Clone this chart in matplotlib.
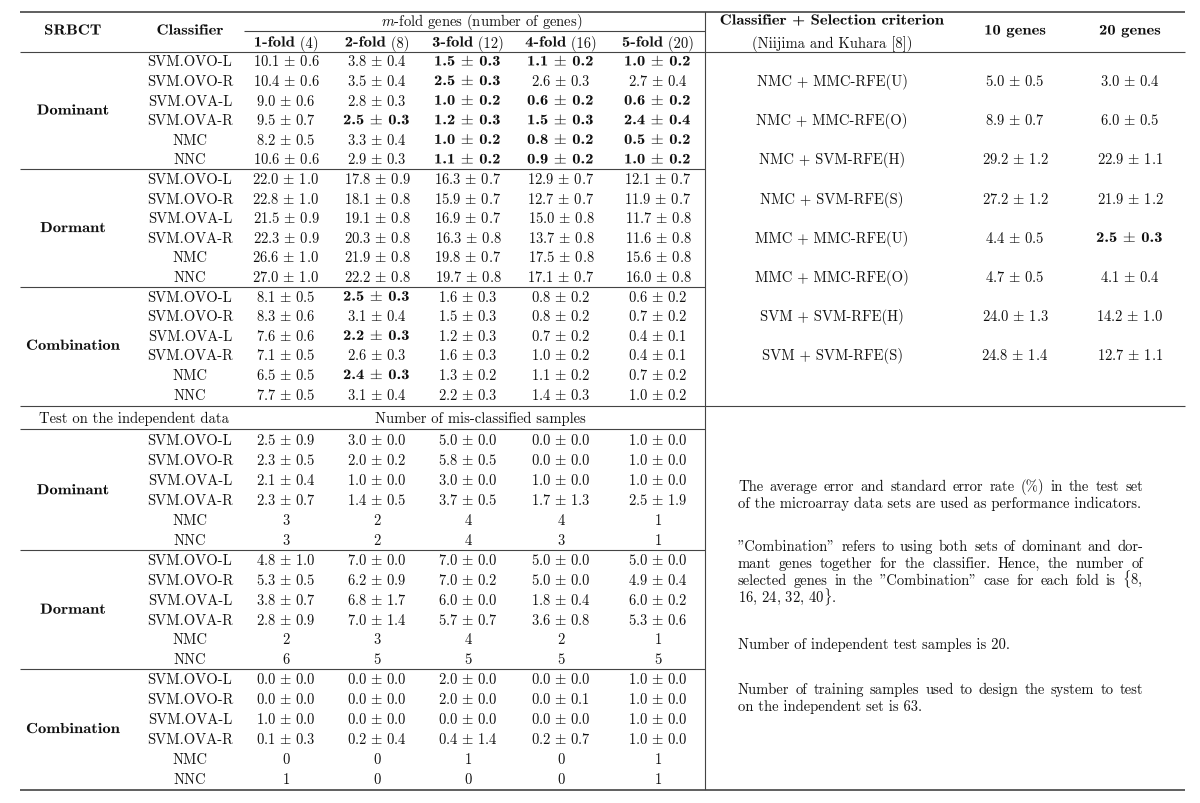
import matplotlib
matplotlib.use("Agg")
import matplotlib.pyplot as plt
from matplotlib.patheffects import AbstractPathEffect
from matplotlib.transforms import Affine2D

plt.rcParams['mathtext.fontset'] = 'cm'
plt.rcParams['font.family'] = 'cmr10'
plt.rcParams['axes.unicode_minus'] = False

# ---- data ----
groups = ["Dominant", "Dormant", "Combination"]
classifiers = ["SVM.OVO-L", "SVM.OVO-R", "SVM.OVA-L", "SVM.OVA-R", "NMC", "NNC"]
fold_labels = ["1-fold", "2-fold", "3-fold", "4-fold", "5-fold"]
fold_genes = [4, 8, 12, 16, 20]

# m-fold cross validation error (%): mean, std
cv_mean = {
    "Dominant": [[10.1, 3.8, 1.5, 1.1, 1.0], [10.4, 3.5, 2.5, 2.6, 2.7], [9.0, 2.8, 1.0, 0.6, 0.6],
                 [9.5, 2.5, 1.2, 1.5, 2.4], [8.2, 3.3, 1.0, 0.8, 0.5], [10.6, 2.9, 1.1, 0.9, 1.0]],
    "Dormant": [[22.0, 17.8, 16.3, 12.9, 12.1], [22.8, 18.1, 15.9, 12.7, 11.9], [21.5, 19.1, 16.9, 15.0, 11.7],
                [22.3, 20.3, 16.3, 13.7, 11.6], [26.6, 21.9, 19.8, 17.5, 15.6], [27.0, 22.2, 19.7, 17.1, 16.0]],
    "Combination": [[8.1, 2.5, 1.6, 0.8, 0.6], [8.3, 3.1, 1.5, 0.8, 0.7], [7.6, 2.2, 1.2, 0.7, 0.4],
                    [7.1, 2.6, 1.6, 1.0, 0.4], [6.5, 2.4, 1.3, 1.1, 0.7], [7.7, 3.1, 2.2, 1.4, 1.0]],
}
cv_std = {
    "Dominant": [[0.6, 0.4, 0.3, 0.2, 0.2], [0.6, 0.4, 0.3, 0.3, 0.4], [0.6, 0.3, 0.2, 0.2, 0.2],
                 [0.7, 0.3, 0.3, 0.3, 0.4], [0.5, 0.4, 0.2, 0.2, 0.2], [0.6, 0.3, 0.2, 0.2, 0.2]],
    "Dormant": [[1.0, 0.9, 0.7, 0.7, 0.7], [1.0, 0.8, 0.7, 0.7, 0.7], [0.9, 0.8, 0.7, 0.8, 0.8],
                [0.9, 0.8, 0.8, 0.8, 0.8], [1.0, 0.8, 0.7, 0.8, 0.8], [1.0, 0.8, 0.8, 0.7, 0.8]],
    "Combination": [[0.5, 0.3, 0.3, 0.2, 0.2], [0.6, 0.4, 0.3, 0.2, 0.2], [0.6, 0.3, 0.3, 0.2, 0.1],
                    [0.5, 0.3, 0.3, 0.2, 0.1], [0.5, 0.3, 0.2, 0.2, 0.2], [0.5, 0.4, 0.3, 0.3, 0.2]],
}
cv_bold = {
    "Dominant": [[0, 0, 1, 1, 1], [0, 0, 1, 0, 0], [0, 0, 1, 1, 1],
                 [0, 1, 1, 1, 1], [0, 0, 1, 1, 1], [0, 0, 1, 1, 1]],
    "Dormant": [[0] * 5] * 6,
    "Combination": [[0, 1, 0, 0, 0], [0] * 5, [0, 1, 0, 0, 0],
                    [0] * 5, [0, 1, 0, 0, 0], [0] * 5],
}

# number of mis-classified samples on the independent data (std None -> integer count)
test_mean = {
    "Dominant": [[2.5, 3.0, 5.0, 0.0, 1.0], [2.3, 2.0, 5.8, 0.0, 1.0], [2.1, 1.0, 3.0, 1.0, 1.0],
                 [2.3, 1.4, 3.7, 1.7, 2.5], [3, 2, 4, 4, 1], [3, 2, 4, 3, 1]],
    "Dormant": [[4.8, 7.0, 7.0, 5.0, 5.0], [5.3, 6.2, 7.0, 5.0, 4.9], [3.8, 6.8, 6.0, 1.8, 6.0],
                [2.8, 7.0, 5.7, 3.6, 5.3], [2, 3, 4, 2, 1], [6, 5, 5, 5, 5]],
    "Combination": [[0.0, 0.0, 2.0, 0.0, 1.0], [0.0, 0.0, 2.0, 0.0, 1.0], [1.0, 0.0, 0.0, 0.0, 1.0],
                    [0.1, 0.2, 0.4, 0.2, 1.0], [0, 0, 1, 0, 1], [1, 0, 0, 0, 1]],
}
test_std = {
    "Dominant": [[0.9, 0.0, 0.0, 0.0, 0.0], [0.5, 0.2, 0.5, 0.0, 0.0], [0.4, 0.0, 0.0, 0.0, 0.0],
                 [0.7, 0.5, 0.5, 1.3, 1.9], None, None],
    "Dormant": [[1.0, 0.0, 0.0, 0.0, 0.0], [0.5, 0.9, 0.2, 0.0, 0.4], [0.7, 1.7, 0.0, 0.4, 0.2],
                [0.9, 1.4, 0.7, 0.8, 0.6], None, None],
    "Combination": [[0.0, 0.0, 0.0, 0.0, 0.0], [0.0, 0.0, 0.0, 0.1, 0.0], [0.0, 0.0, 0.0, 0.0, 0.0],
                    [0.3, 0.4, 1.4, 0.7, 0.0], None, None],
}

# Niijima and Kuhara [8]
ref_methods = ["NMC + MMC-RFE(U)", "NMC + MMC-RFE(O)", "NMC + SVM-RFE(H)", "NMC + SVM-RFE(S)",
               "MMC + MMC-RFE(U)", "MMC + MMC-RFE(O)", "SVM + SVM-RFE(H)", "SVM + SVM-RFE(S)"]
ref_10_mean = [5.0, 8.9, 29.2, 27.2, 4.4, 4.7, 24.0, 24.8]
ref_10_std = [0.5, 0.7, 1.2, 1.2, 0.5, 0.5, 1.3, 1.4]
ref_20_mean = [3.0, 6.0, 22.9, 21.9, 2.5, 4.1, 14.2, 12.7]
ref_20_std = [0.4, 0.5, 1.1, 1.2, 0.3, 0.4, 1.0, 1.1]
ref_20_bold = [0, 0, 0, 0, 1, 0, 0, 0]

notes = [
    ["The average error and standard error rate (%) in the test set",
     "of the microarray data sets are used as performance indicators."],
    ['"Combination" refers to using both sets of dominant and dor-',
     "mant genes together for the classifier.  Hence, the number of",
     'selected genes in the "Combination" case for each fold is $\\{$8,',
     "16, 24, 32, 40$\\}$."],
    ["Number of independent test samples is 20."],
    ["Number of training samples used to design the system to test",
     "on the independent set is 63."],
]

# ---- layout (pixel coordinates) ----
FS = 10.5
SX = 1.14          # widen cmb10 towards LaTeX's bold-extended look
INK = "#111111"
RULE = "#444444"
X0, X1, XS = 20, 1185, 705
x_group, x_clf = 73, 190
x_cols = [286, 377, 468, 561, 658]
x_ref = [832, 1015, 1130]
row_cv, row_test = 19.6, 19.9
y_cv0, y_test0 = 62, 441

fig = plt.figure(figsize=(12, 8.04), dpi=100)
ax = fig.add_axes([0, 0, 1, 1])
ax.set_xlim(0, 1200)
ax.set_ylim(804, 0)
ax.axis("off")
renderer = fig.canvas.get_renderer()


class Stretch(AbstractPathEffect):
    def __init__(self, sx):
        super().__init__()
        self.sx = sx

    def draw_path(self, renderer, gc, tpath, affine, rgbFace=None):
        renderer.draw_path(gc, tpath, Affine2D().scale(self.sx, 1) + affine, rgbFace)


def segs(x, y, parts, ha="center"):
    """parts: list of (string, bold); laid out side by side."""
    arts, widths = [], []
    for s, b in parts:
        a = ax.text(0, y + 4.5, s, ha="left", va="baseline", fontsize=FS, color=INK,
                    family=["cmb10", "DejaVu Serif"] if b else ["cmr10", "DejaVu Serif"])
        w = a.get_window_extent(renderer).width
        if b:
            a.set_path_effects([Stretch(SX)])
            w *= SX
        arts.append(a)
        widths.append(w)
    total = sum(widths)
    xs = x - total / 2 if ha == "center" else x
    for a, w in zip(arts, widths):
        a.set_x(xs)
        xs += w
    return arts, widths


def put(x, y, s, bold=False, ha="center"):
    return segs(x, y, [(s, bold)], ha=ha)


def pm(m, s):
    return f"{m:.1f} $\\pm$ {s:.1f}"


def hline(y, xa, xb, lw=0.8):
    ax.plot([xa, xb], [y, y], color=RULE, lw=lw, solid_capstyle="butt")


# rules
hline(13, X0, X1, lw=1.2)
hline(32, 244, XS)
hline(53, X0, X1)
ax.plot([XS, XS], [13, 790], color=RULE, lw=0.8)

# header
put(x_group, 31, "SRBCT", bold=True)
put(x_clf, 31, "Classifier", bold=True)
put(482, 21, "$m$-fold genes (number of genes)")
for x, lab, g in zip(x_cols, fold_labels, fold_genes):
    segs(x, 43, [(lab, True), (f" ({g})", False)])
put(x_ref[0], 21, "Classifier + Selection criterion", bold=True)
put(x_ref[0], 44, "(Niijima and Kuhara [8])")
put(x_ref[1], 31, "10 genes", bold=True)
put(x_ref[2], 31, "20 genes", bold=True)

# cross-validation block
for gi, g in enumerate(groups):
    yg = y_cv0 + gi * 6 * row_cv
    put(x_group, yg + 2.5 * row_cv, g, bold=True)
    for ri, clf in enumerate(classifiers):
        y = yg + ri * row_cv
        put(x_clf, y, clf)
        for ci, x in enumerate(x_cols):
            put(x, y, pm(cv_mean[g][ri][ci], cv_std[g][ri][ci]), bold=cv_bold[g][ri][ci])
    if gi < 2:
        hline(yg + 5.5 * row_cv + 0.5, X0, XS)

# reference methods
for k, meth in enumerate(ref_methods):
    y = y_cv0 + (2 * k + 1) * row_cv
    put(x_ref[0], y, meth)
    put(x_ref[1], y, pm(ref_10_mean[k], ref_10_std[k]))
    put(x_ref[2], y, pm(ref_20_mean[k], ref_20_std[k]), bold=ref_20_bold[k])

# independent test block
y_mid = y_cv0 + 17.5 * row_cv + 2
hline(y_mid, X0, X1)
put(134, y_mid + 12, "Test on the independent data")
put(480, y_mid + 12, "Number of mis-classified samples")
hline(y_mid + 23, X0, XS)
for gi, g in enumerate(groups):
    yg = y_test0 + gi * 6 * row_test
    put(x_group, yg + 2.5 * row_test, g, bold=True)
    for ri, clf in enumerate(classifiers):
        y = yg + ri * row_test
        put(x_clf, y, clf)
        stds = test_std[g][ri]
        for ci, x in enumerate(x_cols):
            m = test_mean[g][ri][ci]
            put(x, y, f"{int(m)}" if stds is None else pm(m, stds[ci]))
    if gi < 2:
        hline(yg + 5.5 * row_test + 0.5, X0, XS)
hline(y_test0 + 17.5 * row_test + 1.5, X0, X1, lw=1.2)

# notes, justified between nx0 and nx1
nx0, nx1 = 738, 1143
para_y = [487, 547, 645, 690]
line_h = 16.8
for y0, para in zip(para_y, notes):
    for li, line in enumerate(para):
        y = y0 + li * line_h
        if li == len(para) - 1:
            put(nx0, y, line, ha="left")
            continue
        words = line.split()
        placed = [put(nx0, y, w, ha="left") for w in words]
        widths = [wd[0] for _, wd in placed]
        gap = (nx1 - nx0 - sum(widths)) / (len(words) - 1)
        x = nx0
        for (arts, _), w in zip(placed, widths):
            arts[0].set_x(x)
            x += w + gap

fig.savefig("out.png", dpi=100, facecolor="white")
